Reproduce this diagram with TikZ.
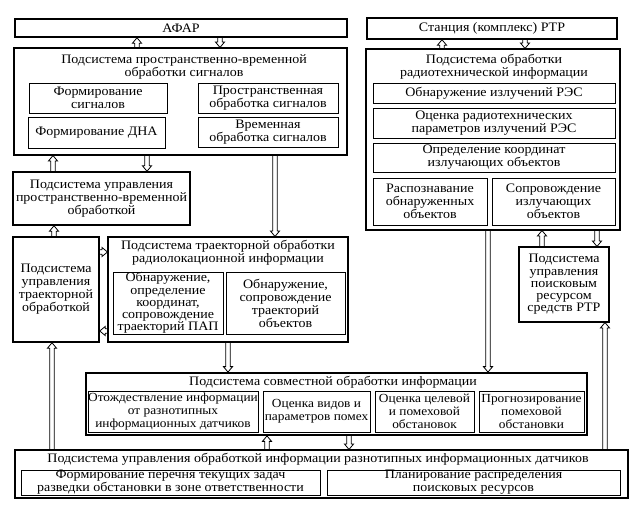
\documentclass[tikz,border=0pt]{standalone}
\usepackage{fontspec}
\setmainfont{Liberation Serif}[FakeStretch=1.08]
\usetikzlibrary{calc}
\newcommand\tfont{\fontsize{13}{13}\selectfont}
\newcommand\tightfont{\fontsize{13}{12.3}\selectfont}
\newcommand\narrowfont{\fontsize{12.4}{12.8}\selectfont}
\newcommand\arrw{2.2pt}
\newcommand\arrh{4.6pt}
\newcommand\arrk{5.5pt}
\tikzset{
  rect/.style n args={4}{at={({(#1+#3)/2},{(#2+#4)/2})}, minimum width={(#3-#1)*1bp}, minimum height={(#4-#2)*1bp}},
  outerbox/.style={draw, line width=1.1pt, inner sep=0pt, align=center, font=\tfont},
  innerbox/.style={draw, line width=0.7pt, inner sep=0pt, align=center, font=\tfont},
  heavybox/.style={draw, line width=1.8pt, inner sep=0pt},
  ttl/.style={inner sep=0pt, align=center, font=\tfont},
  tightlines/.style={font=\tightfont},
  snug/.style={inner xsep=-5bp, font=\narrowfont},
  varr/.style={line width=0.8pt, to path={let \p1=(\tikztostart), \p2=(\tikztotarget), \n1={(\y2-\y1)/abs(\y2-\y1)} in
    (\x1-\arrw,\y1) -- (\x1-\arrw,\y2-\n1*\arrk) -- (\x1-\arrh,\y2-\n1*\arrk) -- (\x1,\y2) -- (\x1+\arrh,\y2-\n1*\arrk) -- (\x1+\arrw,\y2-\n1*\arrk) -- (\x1+\arrw,\y1)}},
  harr/.style={line width=0.8pt, to path={let \p1=(\tikztostart), \p2=(\tikztotarget), \n1={(\x2-\x1)/abs(\x2-\x1)} in
    (\x1,\y1-\arrw) -- (\x2-\n1*\arrk,\y1-\arrw) -- (\x2-\n1*\arrk,\y1-\arrh) -- (\x2,\y1) -- (\x2-\n1*\arrk,\y1+\arrh) -- (\x2-\n1*\arrk,\y1+\arrw) -- (\x1,\y1+\arrw)}}
}
\begin{document}
\begin{tikzpicture}[x=1bp,y=-1bp]
\useasboundingbox (0,0) rectangle (642,506);
% left top
\node[outerbox, line width=1.5pt, rect={15}{19}{347}{37}] (afar) {АФАР};
\node[outerbox, rect={14}{48}{347}{155}] (stbox) {};
\node[ttl] (sttitle) at (184,67) {Подсистема пространственно-временной\\обработки сигналов};
\node[innerbox, rect={29}{83}{167}{113}] (s1) {Формирование\\сигналов};
\node[innerbox, rect={28}{117}{165}{148}] (s2) {Формирование ДНА};
\node[innerbox, rect={198}{83}{338}{113}] (s3) {Пространственная\\обработка сигналов};
\node[innerbox, rect={198}{117}{338}{147}] (s4) {Временная\\обработка сигналов};
% right top
\node[outerbox, line width=1.5pt, rect={367}{18}{617}{39}] (rtr) {Станция (комплекс) РТР};
\node[outerbox, rect={366}{49}{620}{230}] (rbox) {};
\node[ttl] (rtitle) at (494,67) {Подсистема обработки\\радиотехнической информации};
\node[innerbox, rect={373}{83}{615}{103}] (r1) {Обнаружение излучений РЭС};
\node[innerbox, rect={373}{108}{615}{138}] (r2) {Оценка радиотехнических\\параметров излучений РЭС};
\node[innerbox, rect={373}{143}{615}{172}] (r3) {Определение координат\\излучающих объектов};
\node[innerbox, rect={373}{178}{487}{225}] (r4) {Распознавание\\обнаруженных\\объектов};
\node[innerbox, rect={492}{178}{615}{225}] (r5) {Сопровождение\\излучающих\\объектов};
% control boxes
\node[outerbox, line width=1.5pt, rect={13}{172}{190}{225}] (ctl1) {Подсистема управления\\пространственно-временной\\обработкой};
\node[outerbox, line width=1.5pt, rect={13}{237}{99}{342}] (ctl2) {Подсистема\\управления\\траекторной\\обработкой};
\node[outerbox, rect={108}{237}{348}{342}] (tbox) {};
\node[ttl] (ttitle) at (228,253) {Подсистема траекторной обработки\\радиолокационной информации};
\node[innerbox, tightlines, rect={113}{272}{223}{334}] (t1) {Обнаружение,\\определение\\координат,\\сопровождение\\траекторий ПАП};
\node[innerbox, rect={226}{272}{345}{334}] (t2) {Обнаружение,\\сопровождение\\траекторий\\объектов};
\node[outerbox, tightlines, rect={519}{247}{609}{322}] (ctl3) {Подсистема\\управления\\поисковым\\ресурсом\\средств РТР};
% joint
\node[heavybox, rect={86}{373}{587}{435}] (jbox) {};
\node[ttl] (jtitle) at (333,382) {Подсистема совместной обработки информации};
\node[innerbox, snug, rect={88}{391}{258}{432}] (j1) {Отождествление информации\\от разнотипных\\информационных датчиков};
\node[innerbox, snug, rect={263}{391}{370}{432}] (j2) {Оценка видов и\\параметров помех};
\node[innerbox, snug, rect={375}{391}{474}{432}] (j3) {Оценка целевой\\и помеховой\\обстановок};
\node[innerbox, snug, rect={479}{391}{584}{432}] (j4) {Прогнозирование\\помеховой\\обстановки};
% bottom
\node[outerbox, rect={15}{450}{628}{498}] (bot) {};
\node[ttl] (btitle) at (318,459) {Подсистема управления обработкой информации разнотипных информационных датчиков};
\node[innerbox, rect={21}{470}{320}{495}] (b1) {Формирование перечня текущих задач\\разведки обстановки в зоне ответственности};
\node[innerbox, rect={327}{470}{620}{495}] (b2) {Планирование распределения\\поисковых ресурсов};
% arrows
\draw[varr] (stbox.north -| 137,0) to (afar.south -| 137,0);
\draw[varr] (afar.south -| 220,0) to (stbox.north -| 220,0);
\draw[varr] (ctl1.north -| 53,0) to (stbox.south -| 53,0);
\draw[varr] (stbox.south -| 147,0) to (ctl1.north -| 147,0);
\draw[varr] (stbox.south -| 275,0) to (tbox.north -| 275,0);
\draw[varr] (ctl2.north -| 54,0) to (ctl1.south -| 54,0);
\draw[harr] (ctl2.east |- 0,252) to (tbox.west |- 0,252);
\draw[harr] (tbox.west |- 0,331) to (ctl2.east |- 0,331);
\draw[varr] (rbox.north -| 442,0) to (rtr.south -| 442,0);
\draw[varr] (rtr.south -| 525,0) to (rbox.north -| 525,0);
\draw[varr] (rbox.south -| 488,0) to (jbox.north -| 488,0);
\draw[varr] (ctl3.north -| 542,0) to (rbox.south -| 542,0);
\draw[varr] (rbox.south -| 597,0) to (ctl3.north -| 597,0);
\draw[varr] (bot.north -| 605,0) to (ctl3.south -| 605,0);
\draw[varr] (tbox.south -| 228,0) to (jbox.north -| 228,0);
\draw[varr] (bot.north -| 52,0) to (ctl2.south -| 52,0);
\draw[varr] (bot.north -| 267,0) to (jbox.south -| 267,0);
\draw[varr] (jbox.south -| 349,0) to (bot.north -| 349,0);
\end{tikzpicture}
\end{document}
